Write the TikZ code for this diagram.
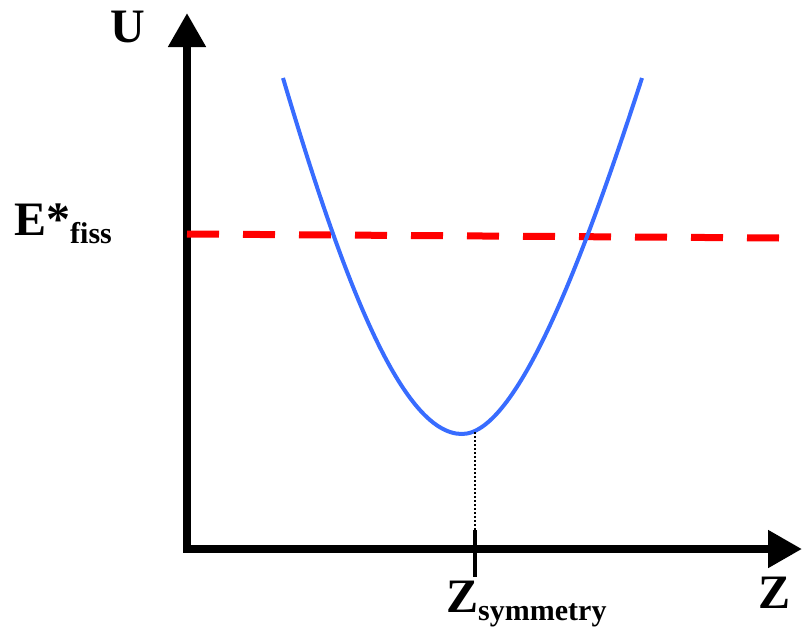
\documentclass[tikz,border=0pt]{standalone}
\usepackage{fontspec}
\setmainfont{Liberation Serif}
\usetikzlibrary{arrows.meta,positioning}

\definecolor{curveblue}{RGB}{56,108,255}
\newcommand\lowsub[1]{\raisebox{-8pt}{\fontsize{30}{30}\selectfont #1}}

\tikzset{
  axislbl/.style={font=\fontsize{48}{48}\selectfont\bfseries,inner sep=0pt},
}

\begin{document}
\begin{tikzpicture}[x=1pt,y=-1pt,>={Triangle[length=34pt,width=36pt]}]
\useasboundingbox (0,0) rectangle (802,630);
% axes
\coordinate (O) at (187,549);
\coordinate (utip) at (187,13);
\coordinate (ztip) at (802,549);
\draw[line width=8pt,<->] (utip) -- (O) -- (ztip);
% fission energy level
\coordinate (eleft) at (187,234);
\coordinate (eright) at (780,238);
\draw[red,line width=7pt,dash pattern=on 32pt off 24pt] (eleft) -- (eright);
% potential
\coordinate (lefttop) at (283,78);
\coordinate (minimum) at (462,434);
\coordinate (righttop) at (642,78);
\draw[curveblue,line width=4pt] (lefttop) .. controls (340,270) and (400,434) .. (minimum)
  .. controls (520,434) and (590,238) .. (righttop);
\coordinate (bottom) at (475,432);
\coordinate (ticktop) at (475,530);
\coordinate (tickbot) at (475,577);
\draw[line width=2pt,dash pattern=on 2pt off 2pt] (bottom) -- (ticktop);
\draw[line width=4pt] (ticktop) -- (tickbot);
% labels
\node[axislbl,anchor=base] (ulbl) at (128,42) {U};
\node[axislbl,anchor=base west] (elbl) at (14,235) {E*\lowsub{fiss}};
\node[axislbl,anchor=base west] (zsym) at (446,612) {Z\lowsub{symmetry}};
\node[axislbl,anchor=base] (zlbl) at (774,608) {Z};
\end{tikzpicture}
\end{document}
